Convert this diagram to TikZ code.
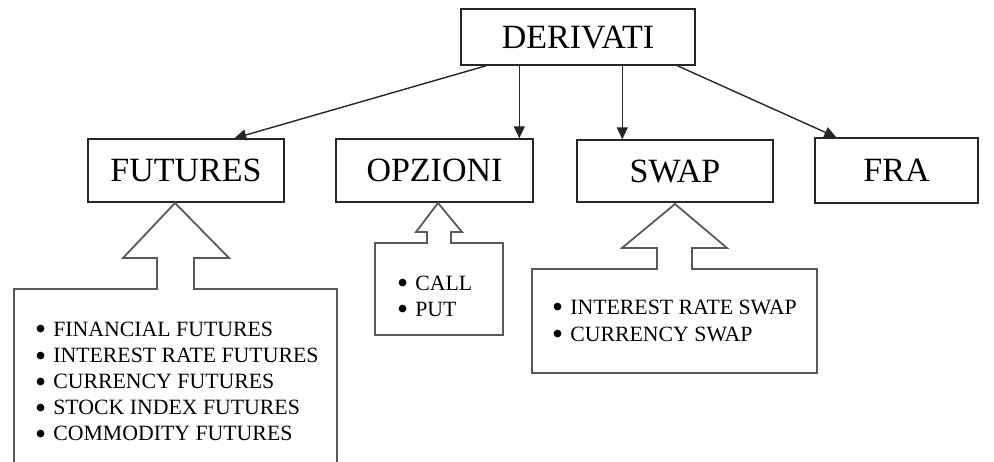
\documentclass[tikz,border=0pt]{standalone}
\usepackage{fontspec}
\setmainfont{Liberation Serif}
\usetikzlibrary{arrows.meta}
\newcommand{\bul}{\smash{\raisebox{-3pt}{\scalebox{1.45}{\textbullet}}}\hspace{7pt}}
\begin{document}
\begin{tikzpicture}[x=1pt,y=-1pt,
  catbox/.style={draw=black!85, line width=1.4pt, fill=white, inner sep=0pt,
    font=\fontsize{34}{40}\selectfont, text depth=0pt},
  link/.style={draw=black!85, line width=1.4pt, -{Triangle[length=12pt,width=11pt]}},
  callout/.style={draw=black!65, line width=1.8pt, line join=miter},
  item/.style={anchor=base west, inner sep=0pt, font=\fontsize{21.8}{26}\selectfont}
]
\useasboundingbox (0,0) rectangle (994,462);
\clip (0,0) rectangle (994,462);
% top-level boxes
\node[catbox, minimum width=234pt, minimum height=56pt] (der) at (578,37) {DERIVATI};
\node[catbox, minimum width=196pt, minimum height=63pt] (fut) at (186,170.5) {FUTURES};
\node[catbox, minimum width=197pt, minimum height=63pt] (opz) at (434.5,170.5) {OPZIONI};
\node[catbox, minimum width=196pt, minimum height=62pt] (swap) at (675,171) {SWAP};
\node[catbox, minimum width=163pt, minimum height=65pt] (fra) at (896.5,170.5) {FRA};
% connectors
\draw[link] ([xshift=26pt]der.south west) -- ([xshift=147pt]fut.north west);
\draw[link] ([xshift=59pt]der.south west) -- ([xshift=184pt]opz.north west);
\draw[link] ([xshift=162pt]der.south west) -- ([xshift=46pt]swap.north west);
\draw[link] ([xshift=217pt]der.south west) -- ([xshift=22pt]fra.north west);
% callout boxes with block arrows
\draw[callout] (14,289) -- (157,289) -- (157,258) -- (123,258) -- (175,203)
  -- (229,258) -- (194,258) -- (194,289) -- (337,289) -- (337,480) -- (14,480) -- cycle;
\draw[callout] (375,243) -- (427,243) -- (427,232) -- (416,232) -- (438,203)
  -- (462,232) -- (451,232) -- (451,243) -- (503,243) -- (503,335) -- (375,335) -- cycle;
\draw[callout] (532,269) -- (657,269) -- (657,248) -- (622,248) -- (675,204)
  -- (727,248) -- (692,248) -- (692,269) -- (817,269) -- (817,373) -- (532,373) -- cycle;
% lists
\node[item] (f1) at (35,337) {\bul FINANCIAL FUTURES};
\node[item] (f2) at (35,363) {\bul INTEREST RATE FUTURES};
\node[item] (f3) at (35,389) {\bul CURRENCY FUTURES};
\node[item] (f4) at (35,415) {\bul STOCK INDEX FUTURES};
\node[item] (f5) at (35,441) {\bul COMMODITY FUTURES};
\node[item] (o1) at (397,291) {\bul CALL};
\node[item] (o2) at (397,317) {\bul PUT};
\node[item] (s1) at (552,315) {\bul INTEREST RATE SWAP};
\node[item] (s2) at (552,342) {\bul CURRENCY SWAP};
\end{tikzpicture}
\end{document}
